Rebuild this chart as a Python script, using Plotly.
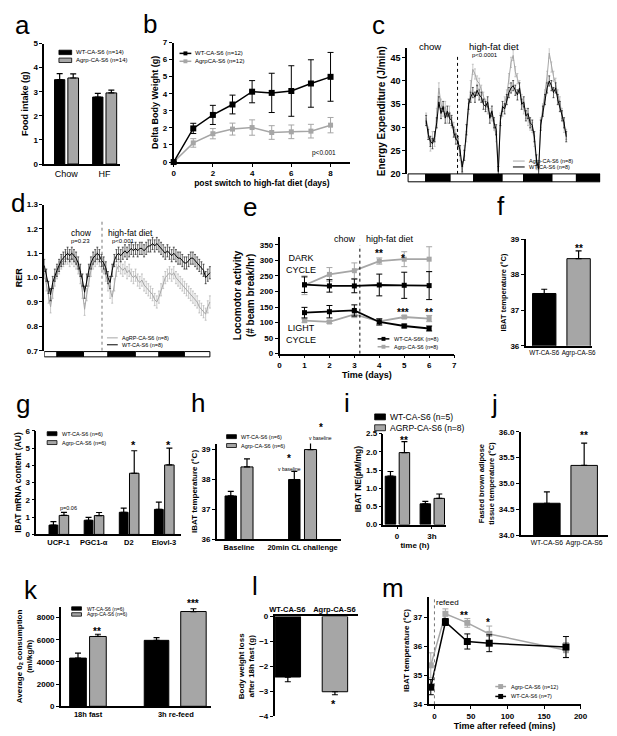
import plotly.graph_objects as go

W, H = 617, 736
FONT = "Liberation Sans"
BLK = "#000000"
GRY = "#a6a6a6"

# ====================== DATA ======================
# (a) food intake
A_CATS = ["Chow", "HF"]
A_WT = [3.50, 2.78]
A_WT_ERR = [0.25, 0.15]
A_AG = [3.57, 2.95]
A_AG_ERR = [0.17, 0.12]

# (b) delta body weight
B_DAYS = [0, 1, 2, 3, 4, 5, 6, 7, 8]
B_WT = [0.0, 1.97, 2.76, 3.37, 4.12, 4.05, 4.16, 4.60, 4.99]
B_WT_ERR = [0.0, 0.30, 0.56, 0.55, 0.65, 1.15, 1.48, 1.39, 1.43]
B_AG = [0.0, 1.12, 1.66, 1.93, 2.02, 1.73, 1.77, 1.81, 2.16]
B_AG_ERR = [0.0, 0.25, 0.30, 0.35, 0.45, 0.40, 0.40, 0.40, 0.45]

# (c) energy expenditure (hourly)
C_HOURS = list(range(9, 76))
C_AG = [32, 29, 26, 28, 27, 33, 38.5, 35, 33.5, 34.5, 32, 33.5, 31, 30, 28.5, 26.5, 24, 20.5,
        25, 28, 34, 39, 42.5, 41.5, 40, 39.5, 38, 36.5, 35, 34, 33, 32.5, 30.5, 28, 20.5, 32,
        33.5, 35.5, 37, 40.5, 44, 45.5, 42, 40.5, 39, 36, 34, 33, 31.5, 30.5, 30, 27, 22, 20.5,
        31, 34, 37, 41, 46, 43, 41, 39.5, 37, 35.5, 33, 30, 28.5]
C_WT = [31.5, 28.5, 27, 26.5, 28, 31, 35.5, 33, 34.5, 32, 33.5, 32, 31.5, 29, 27.5, 27, 25, 21.5,
        24, 29.5, 35, 36.5, 37.5, 36.5, 38, 37, 36.5, 35, 34.5, 35.5, 32, 33.5, 31, 29.5, 20.5, 31.5,
        34.5, 34, 36, 37.5, 38.5, 39, 38, 37, 38.5, 35, 35.5, 32.5, 33, 31, 30.5, 28, 23, 21,
        30.5, 33.5, 36, 38.5, 40, 39, 37.5, 38.5, 36, 34.5, 32.5, 31, 28]
C_SEM = 1.1
C_LD_EDGES = [0.5, 8.8, 20.3, 31.4, 44.8, 54.9, 68.3, 79.8, 91.0]
C_SWITCH = 23.8

# (d) RER (hourly)
D_HOURS = list(range(0, 79))
D_WT = [1.05, 1.01, 0.96, 0.93, 0.98, 1.01, 1.03, 1.05, 1.07, 1.08,
        1.09, 1.10, 1.09, 1.10, 1.09, 1.08, 1.06, 1.03, 0.99, 0.94,
        0.99, 1.03, 1.06, 1.08, 1.09, 1.10, 1.09, 1.07, 1.06, 1.04,
        1.00, 0.98, 1.03, 1.07, 1.09, 1.10, 1.09, 1.10, 1.11, 1.10,
        1.11, 1.12, 1.11, 1.12, 1.11, 1.12, 1.12, 1.11, 1.12, 1.13,
        1.13, 1.14, 1.13, 1.14, 1.13, 1.12, 1.11, 1.10, 1.11, 1.10,
        1.09, 1.10, 1.09, 1.08, 1.08, 1.07, 1.06, 1.06, 1.07, 1.08,
        1.08, 1.07, 1.06, 1.05, 1.04, 1.03, 1.00, 1.01, 1.02]
D_AG = [1.02, 0.97, 0.92, 0.88, 0.94, 0.99, 1.02, 1.04, 1.06, 1.07,
        1.08, 1.08, 1.07, 1.08, 1.07, 1.06, 1.04, 1.00, 0.94, 0.87,
        0.93, 0.99, 1.03, 1.06, 1.07, 1.08, 1.07, 1.06, 1.04, 1.01,
        0.97, 0.94, 0.92, 0.97, 1.03, 1.05, 1.04, 1.03, 1.04, 1.02,
        1.03, 1.01, 1.00, 1.01, 0.99, 0.98, 0.99, 0.97, 0.96, 0.95,
        0.94, 0.93, 0.91, 0.90, 0.92, 0.95, 0.98, 1.00, 1.01, 1.02,
        1.01, 1.02, 1.00, 0.99, 0.98, 0.97, 0.96, 0.95, 0.94, 0.93,
        0.92, 0.91, 0.90, 0.88, 0.87, 0.86, 0.85, 0.88, 0.90]
D_SEM = 0.025
D_LD_EDGES = [0.0, 6.0, 18.5, 30.0, 42.9, 54.0, 66.0, 78.0]
D_SWITCH = 27.2

# (e) locomotor activity
E_DAYS = [1, 2, 3, 4, 5, 6]
E_AG_DARK = [220, 255, 267, 298, 304, 304]
E_AG_DARK_ERR = [30, 22, 25, 10, 24, 40]
E_WT_DARK = [222, 218, 218, 221, 220, 219]
E_WT_DARK_ERR = [25, 20, 22, 35, 42, 45]
E_WT_LIGHT = [132, 135, 139, 102, 89, 81]
E_WT_LIGHT_ERR = [17, 20, 18, 10, 6, 8]
E_AG_LIGHT = [106, 102, 126, 104, 118, 113]
E_AG_LIGHT_ERR = [5, 5, 10, 8, 5, 10]
E_SWITCH = 3.22

# (f) IBAT temperature
F_CATS = ["WT-CA-S6", "Agrp-CA-S6"]
F_VALS = [37.47, 38.45]
F_ERR = [0.12, 0.22]

# (g) IBAT mRNA
G_CATS = ["UCP-1", "PGC1-α", "D2", "Elovl-3"]
G_WT = [0.54, 0.82, 1.28, 1.45]
G_WT_ERR = [0.20, 0.17, 0.24, 0.42]
G_AG = [1.10, 1.09, 3.54, 4.02]
G_AG_ERR = [0.18, 0.18, 1.30, 0.97]

# (h) IBAT temperature, CL challenge
H_CATS = ["Baseline", "20min CL challenge"]
H_WT = [37.45, 38.00]
H_WT_ERR = [0.15, 0.27]
H_AG = [38.42, 39.00]
H_AG_ERR = [0.27, 0.30]

# (i) IBAT NE
I_CATS = ["0", "3h"]
I_WT = [1.33, 0.57]
I_WT_ERR = [0.13, 0.07]
I_AG = [1.98, 0.72]
I_AG_ERR = [0.30, 0.12]

# (j) fasted BAT temperature
J_CATS = ["WT-CA-S6", "Agrp-CA-S6"]
J_VALS = [34.62, 35.35]
J_ERR = [0.22, 0.43]

# (k) O2 consumption
K_CATS = ["18h fast", "3h re-feed"]
K_WT = [4350, 5950]
K_WT_ERR = [450, 250]
K_AG = [6300, 8550]
K_AG_ERR = [200, 250]

# (l) body weight loss
L_CATS = ["WT-CA-S6", "Agrp-CA-S6"]
L_VALS = [-2.43, -3.02]
L_ERR = [0.19, 0.12]

# (m) IBAT temperature after refeed
M_TIME = [-5, 15, 45, 75, 180]
M_AG = [35.34, 37.11, 36.80, 36.42, 35.86]
M_AG_ERR = [0.43, 0.17, 0.15, 0.27, 0.26]
M_WT = [34.59, 36.83, 36.16, 36.10, 35.97]
M_WT_ERR = [0.26, 0.12, 0.26, 0.29, 0.36]

# ====================== HELPERS ======================
def xdom(l, r):
    return [l / W, r / W]

def ydom(t, b):
    return [1 - b / H, 1 - t / H]

def px(x):
    return x / W

def py(y):
    return 1 - y / H

TICKF = dict(family=FONT, size=8, color=BLK, weight="bold")

def tf(s=8.5, bold=True):
    return dict(family=FONT, size=s, color=BLK, weight="bold" if bold else "normal")

BASE_AX = dict(showline=True, linecolor=BLK, linewidth=1.5, ticks="outside", ticklen=3,
               tickwidth=1.3, tickcolor=BLK, tickfont=TICKF, showgrid=False,
               zeroline=False, fixedrange=True)

layout = dict(width=W, height=H, margin=dict(l=0, r=0, t=0, b=0), paper_bgcolor="white",
              plot_bgcolor="white", barmode="overlay", showlegend=False,
              font=dict(family=FONT, color=BLK))
shapes = []
annotations = []
traces = []


def add_axes(n, box, xr, yr, xkw=None, ykw=None, ytitle="", xtitle="", ytsize=8.5, xtsize=8.5):
    l, r, t, b = box
    s = "" if n == 1 else str(n)
    xa = dict(BASE_AX, domain=xdom(l, r), range=xr, anchor="y" + s)
    ya = dict(BASE_AX, domain=ydom(t, b), range=yr, anchor="x" + s)
    if xtitle:
        xa["title"] = dict(text=xtitle, font=tf(xtsize), standoff=2)
    if ytitle:
        ya["title"] = dict(text=ytitle, font=tf(ytsize), standoff=3)
    if xkw:
        xa.update(xkw)
    if ykw:
        ya.update(ykw)
    layout["xaxis" + s] = xa
    layout["yaxis" + s] = ya
    return "x" + s, "y" + s


def bars(xa, ya, cats, vals, err, color, off, w, down=False):
    zeros = [0] * len(vals)
    ey = dict(type="data", symmetric=False, array=zeros if down else err,
              arrayminus=err if down else zeros, color=BLK, thickness=1.2, width=3)
    traces.append(go.Bar(x=cats, y=vals, xaxis=xa, yaxis=ya, offset=off, width=w,
                         marker=dict(color=color, line=dict(color=BLK, width=1)),
                         error_y=ey, showlegend=False, hoverinfo="skip"))


def line(xa, ya, xs, ys, err, color, lw=1.5, msize=6, mode="lines+markers", ew=3, et=1.0,
         const_err=None):
    if const_err is not None:
        ey = dict(type="constant", value=const_err, color=color, thickness=0.6, width=1)
    else:
        ey = dict(type="data", array=err, color=color, thickness=et, width=ew)
    traces.append(go.Scatter(x=xs, y=ys, xaxis=xa, yaxis=ya, mode=mode,
                             line=dict(color=color, width=lw),
                             marker=dict(symbol="square", size=msize, color=color),
                             error_y=ey, showlegend=False, hoverinfo="skip", cliponaxis=False))


def text(t, x, y, size=8, bold=False, xanchor="center", yanchor="middle", color=BLK):
    annotations.append(dict(text=t, x=px(x), y=py(y), xref="paper", yref="paper",
                            xanchor=xanchor, yanchor=yanchor, showarrow=False,
                            font=dict(family=FONT, size=size, color=color,
                                      weight="bold" if bold else "normal")))


def letter(t, x, y):
    text(t, x, y, size=26)


def legend_bar(entries, xs, sw, sh, xt, rows, size):
    for (lab, col), ry in zip(entries, rows):
        shapes.append(dict(type="rect", xref="paper", yref="paper", x0=px(xs), x1=px(xs + sw),
                           y0=py(ry + sh / 2), y1=py(ry - sh / 2), fillcolor=col,
                           line=dict(color=BLK, width=0.8)))
        text(lab, xt, ry, size=size, xanchor="left")


def legend_line(entries, xs, sw, xt, rows, size, msz=0, lw=1.5):
    for (lab, col), ry in zip(entries, rows):
        shapes.append(dict(type="line", xref="paper", yref="paper", x0=px(xs), x1=px(xs + sw),
                           y0=py(ry), y1=py(ry), line=dict(color=col, width=lw)))
        if msz:
            cx = xs + sw / 2
            shapes.append(dict(type="rect", xref="paper", yref="paper",
                               x0=px(cx - msz / 2), x1=px(cx + msz / 2),
                               y0=py(ry + msz / 2), y1=py(ry - msz / 2),
                               fillcolor=col, line=dict(color=col, width=0)))
        text(lab, xt, ry, size=size, xanchor="left")


def light_dark(xa, ya, edges, y0, y1):
    for i in range(len(edges) - 1):
        shapes.append(dict(type="rect", xref=xa, yref=ya + " domain", x0=edges[i], x1=edges[i + 1],
                           y0=y0, y1=y1, fillcolor="white" if i % 2 == 0 else BLK,
                           line=dict(color=BLK, width=1)))


def vline(xa, ya, x, y0, y1, color=BLK):
    shapes.append(dict(type="line", xref=xa, yref=ya, x0=x, x1=x, y0=y0, y1=y1,
                       line=dict(color=color, width=1, dash="dot")))

# ====================== PANEL a ======================
xa, ya = add_axes(1, (40, 117, 40, 162), [-0.58, 1.40], [0, 5],
                  xkw=dict(type="category", ticks="", tickfont=dict(family=FONT, size=9, color=BLK)),
                  ykw=dict(dtick=1), ytitle="Food intake (g)", ytsize=9)
bars(xa, ya, A_CATS, A_WT, A_WT_ERR, BLK, -0.31, 0.27)
bars(xa, ya, A_CATS, A_AG, A_AG_ERR, GRY, 0.04, 0.28)
legend_bar([("WT-CA-S6 (n=14)", BLK), ("Agrp-CA-S6 (n=14)", GRY)], 55, 13, 4.5, 70, [49, 57], 6)
letter("a", 18, 21)

# ====================== PANEL b ======================
xa, ya = add_axes(2, (172, 352, 39, 160), [0, 9], [0, 7],
                  xkw=dict(tickvals=[0, 2, 4, 6, 8]), ykw=dict(dtick=1),
                  ytitle="Delta Body Weight (g)", xtitle="post switch to high-fat diet (days)",
                  ytsize=9, xtsize=8.5)
line(xa, ya, B_DAYS, B_AG, B_AG_ERR, GRY, lw=1.5, msize=5)
line(xa, ya, B_DAYS, B_WT, B_WT_ERR, BLK, lw=1.5, msize=6)
legend_line([("WT-CA-S6 (n=12)", BLK), ("AgrpCA-S6 (n=12)", GRY)], 178, 12, 192, [50, 58], 6, msz=4)
text("p<0.001", 325, 151, size=6.5)
letter("b", 148, 20)

# ====================== PANEL c ======================
xa, ya = add_axes(3, (410, 607, 45, 172), [0, 91], [20, 47],
                  xkw=dict(showline=False, ticks="", showticklabels=False),
                  ykw=dict(tickvals=[20, 25, 30, 35, 40, 45], tickfont=dict(family=FONT, size=9, color=BLK, weight="bold")),
                  ytitle="Energy Expenditure (J/min)", ytsize=10)
line(xa, ya, C_HOURS, C_AG, None, GRY, lw=1, mode="lines", const_err=C_SEM)
line(xa, ya, C_HOURS, C_WT, None, BLK, lw=1, mode="lines", const_err=C_SEM)
light_dark(xa, ya, C_LD_EDGES, -0.063, 0)
vline(xa, ya, C_SWITCH, 20, 45.5)
text("chow", 433, 43, size=9.5)
text("high-fat diet", 499, 43, size=9.5)
text("p<0.0001", 490, 52, size=6)
legend_line([("Agrp-CA-S6 (n=8)", GRY), ("WT-CA-S6 (n=8)", BLK)], 518, 12, 532, [159, 165], 5.5, lw=1)
letter("c", 381, 21)

# ====================== PANEL d ======================
xa, ya = add_axes(4, (40, 212, 203, 351), [0, 79.4], [0.7, 1.3],
                  xkw=dict(showline=False, ticks="", showticklabels=False),
                  ykw=dict(dtick=0.1, tickformat=".1f"), ytitle="RER", ytsize=9)
line(xa, ya, D_HOURS, D_AG, None, GRY, lw=1, mode="lines", const_err=D_SEM)
line(xa, ya, D_HOURS, D_WT, None, BLK, lw=1, mode="lines", const_err=D_SEM)
light_dark(xa, ya, D_LD_EDGES, -0.042, -0.006)
vline(xa, ya, D_SWITCH, 0.7, 1.24, color="#777777")
text("chow", 78, 232, size=8.5)
text("p=0.23", 77, 239.5, size=6)
text("high-fat diet", 128, 232, size=8.5)
text("p<0.001", 121, 239.5, size=6)
legend_line([("AgRP-CA-S6 (n=8)", GRY), ("WT-CA-S6 (n=8)", BLK)], 104, 11, 117, [338, 345], 5.5, lw=1)
letter("d", 13, 201)

# ====================== PANEL e ======================
xa, ya = add_axes(5, (280, 458, 236, 354), [0, 7], [0, 375],
                  xkw=dict(dtick=1), ykw=dict(tickvals=[0, 50, 100, 150, 200, 250, 300, 350]),
                  ytitle="Locomotor activity<br>(# beam break/hr)", xtitle="Time (days)",
                  ytsize=10, xtsize=9)
line(xa, ya, E_DAYS, E_AG_DARK, E_AG_DARK_ERR, GRY, lw=1.8, msize=5)
line(xa, ya, E_DAYS, E_WT_DARK, E_WT_DARK_ERR, BLK, lw=1.8, msize=5)
line(xa, ya, E_DAYS, E_AG_LIGHT, E_AG_LIGHT_ERR, GRY, lw=1.8, msize=5)
line(xa, ya, E_DAYS, E_WT_LIGHT, E_WT_LIGHT_ERR, BLK, lw=1.8, msize=5)
vline(xa, ya, E_SWITCH, 0, 348)
text("chow", 347, 238, size=9)
text("high-fat diet", 393, 238, size=9)
text("DARK<br>CYCLE", 302, 263, size=9)
text("LIGHT<br>CYCLE", 302, 334, size=9)
text("**", 381, 253, size=10, bold=True)
text("*", 406, 258, size=10, bold=True)
text("***", 406, 312, size=10, bold=True)
text("**", 432, 312, size=10, bold=True)
legend_line([("WT-CA-S6K (n=8)", BLK), ("Agrp-CA-S6 (n=8)", GRY)], 380, 12, 395, [339, 347], 5.5, msz=4)
letter("e", 250, 206)

# ====================== PANEL f ======================
xa, ya = add_axes(6, (531, 599, 238, 346), [-0.54, 1.40], [36, 39],
                  xkw=dict(type="category", ticks="", tickangle=0,
                           tickfont=dict(family=FONT, size=6.3, color=BLK)),
                  ykw=dict(dtick=1), ytitle="IBAT temperature (°C)", ytsize=7.5)
bars(xa, ya, F_CATS, F_VALS, F_ERR, [BLK, GRY], -0.34, 0.68)
text("**", 585, 248, size=10, bold=True)
letter("f", 506, 204)

# ====================== PANEL g ======================
xa, ya = add_axes(7, (32, 180, 432, 537), [-0.63, 3.5], [0, 6],
                  xkw=dict(type="category", ticks="", tickangle=0,
                           tickfont=dict(family=FONT, size=7.5, color=BLK, weight="bold")),
                  ykw=dict(dtick=1), ytitle="IBAT mRNA content (AU)", ytsize=8.5)
bars(xa, ya, G_CATS, G_WT, G_WT_ERR, BLK, -0.27, 0.25)
bars(xa, ya, G_CATS, G_AG, G_AG_ERR, GRY, 0.02, 0.27)
text("p=0.06", 65, 510, size=5.5)
text("*", 131, 446, size=11, bold=True)
text("*", 167, 446, size=11, bold=True)
legend_bar([("WT-CA-S6 (n=6)", BLK), ("Agrp-CA-S6 (n=6)", GRY)], 43, 10, 4, 56, [435, 444], 5.5)
letter("g", 18, 405)

# ====================== PANEL h ======================
xa, ya = add_axes(8, (216, 343, 445, 542), [-0.35, 1.61], [36, 39.2],
                  xkw=dict(type="category", ticks="", tickangle=0,
                           tickfont=dict(family=FONT, size=7.5, color=BLK, weight="bold")),
                  ykw=dict(dtick=1), ytitle="IBAT temperature (°C)", ytsize=8)
bars(xa, ya, H_CATS, H_WT, H_WT_ERR, BLK, -0.22, 0.18)
bars(xa, ya, H_CATS, H_AG, H_AG_ERR, GRY, 0.03, 0.19)
text("*", 290, 460, size=10, bold=True)
text("v baseline", 290, 470.5, size=5)
text("*", 322, 428.5, size=10, bold=True)
text("v baseline", 322, 439, size=5)
legend_bar([("WT-CA-S6 (n=6)", BLK), ("Agrp-CA-S6 (n=6)", GRY)], 226, 10, 4, 239, [438, 447], 5.5)
letter("h", 197, 404)

# ====================== PANEL i ======================
xa, ya = add_axes(9, (386, 450, 435, 527), [-0.39, 1.41], [0, 2.5],
                  xkw=dict(type="category", tickfont=dict(family=FONT, size=8, color=BLK, weight="bold")),
                  ykw=dict(dtick=0.5, tickformat=".1f"), ytitle="IBAT NE(pM/mg)",
                  xtitle="time (h)", ytsize=8.5, xtsize=8)
bars(xa, ya, I_CATS, I_WT, I_WT_ERR, BLK, -0.34, 0.30)
bars(xa, ya, I_CATS, I_AG, I_AG_ERR, GRY, 0.06, 0.30)
text("**", 407, 442, size=10, bold=True)
legend_bar([("WT-CA-S6 (n=5)", BLK), ("AGRP-CA-S6 (n=8)", GRY)], 377, 11, 6, 391, [418, 429], 8.5)
letter("i", 349, 404)

# ====================== PANEL j ======================
xa, ya = add_axes(10, (526, 615, 433, 538), [-0.70, 1.64], [34, 36],
                  xkw=dict(type="category", ticks="", tickangle=0,
                           tickfont=dict(family=FONT, size=6.8, color=BLK)),
                  ykw=dict(dtick=0.5, tickformat=".1f"),
                  ytitle="Fasted brown adipose<br>tissue temperature (°C)", ytsize=7.5)
bars(xa, ya, J_CATS, J_VALS, J_ERR, [BLK, GRY], -0.355, 0.71)
text("**", 590, 437, size=10, bold=True)
letter("j", 499, 405)

# ====================== PANEL k ======================
xa, ya = add_axes(11, (57, 210, 610, 711), [-0.31, 1.40], [0, 9000],
                  xkw=dict(type="category", ticks="", tickangle=0,
                           tickfont=dict(family=FONT, size=7.5, color=BLK, weight="bold")),
                  ykw=dict(tickvals=[0, 2000, 4000, 6000, 8000]),
                  ytitle="Average 0<sub>2</sub> consumption<br>(ml/kg/h)", ytsize=8)
bars(xa, ya, K_CATS, K_WT, K_WT_ERR, BLK, [-0.21, -0.36], [0.19, 0.28])
bars(xa, ya, K_CATS, K_AG, K_AG_ERR, GRY, [0.017, 0.056], [0.19, 0.29])
text("**", 94, 635, size=10, bold=True)
text("***", 192, 607, size=10, bold=True)
legend_bar([("WT-CA-S6 (n=6)", BLK), ("Agrp-CA-S6 (n=6)", GRY)], 68, 10, 3.5, 82, [612, 618], 5)
letter("k", 27, 593)

# ====================== PANEL l ======================
xa, ya = add_axes(12, (275, 360, 620, 721), [-0.27, 1.5], [-4, 0],
                  xkw=dict(type="category", side="top", ticks="", tickangle=0,
                           tickfont=dict(family=FONT, size=7.5, color=BLK, weight="bold")),
                  ykw=dict(dtick=1), ytitle="Body weight loss<br>after 18h fast (g)", ytsize=8)
bars(xa, ya, L_CATS, L_VALS, L_ERR, [BLK, GRY], -0.26, 0.54, down=True)
text("*", 335, 709, size=11, bold=True)
letter("l", 255, 589)

# ====================== PANEL m ======================
xa, ya = add_axes(13, (432, 587, 600, 709), [-8, 200], [34, 37.7],
                  xkw=dict(tickvals=[0, 50, 100, 150, 200]), ykw=dict(tickvals=[34, 35, 36, 37]),
                  ytitle="IBAT temperature (°C)", xtitle="Time after refeed (mins)",
                  ytsize=8, xtsize=9)
vline(xa, ya, 0, 34, 37.7, color="#777777")
line(xa, ya, M_TIME, M_AG, M_AG_ERR, GRY, lw=1.5, msize=6)
line(xa, ya, M_TIME, M_WT, M_WT_ERR, BLK, lw=1.5, msize=7)
text("refeed", 437, 606, size=8, xanchor="left")
text("**", 468, 619, size=10, bold=True)
text("*", 493, 626, size=10, bold=True)
legend_line([("Agrp-CA-S6 (n=12)", GRY), ("WT-CA-S6 (n=7)", BLK)], 500, 11, 514, [691, 701], 5.5, msz=5)
letter("m", 396, 591)

layout["shapes"] = shapes
layout["annotations"] = annotations
fig = go.Figure(data=traces, layout=layout)
fig.write_html("out.html", config={"displayModeBar": False},
               post_script="document.body.style.margin='0px';")
